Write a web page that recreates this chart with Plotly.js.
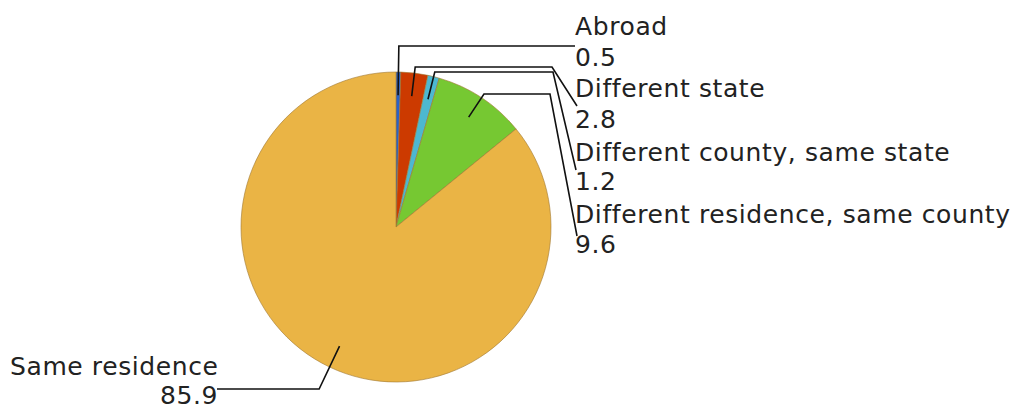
<!DOCTYPE html>
<html>
<head>
<meta charset="utf-8">
<script src="https://cdn.plot.ly/plotly-3.0.1.min.js"></script>
<style>
html,body{margin:0;padding:0;background:#fff;}
#chart{width:1019px;height:410px;}
.annotation-text{letter-spacing:0.6px;}
</style>
</head>
<body>
<div id="chart"></div>
<script>
// ---- data ----
const categories = ['Abroad', 'Different state', 'Different county, same state', 'Different residence, same county', 'Same residence'];
const values = [0.5, 2.8, 1.2, 9.6, 85.9];
const valueLabels = ['0.5', '2.8', '1.2', '9.6', '85.9'];
const colors = ['#2a62c8', '#cc3a00', '#4db8d0', '#76c832', '#eab445'];

// ---- layout (pixels) ----
const W = 1019, H = 410;
const cx = 396, cy = 227, R = 155;
// label layout: name position, value position, leader horizontal level, horizontal end, final point
const labelLayout = [
  {side: 'right', nameY: 26, valY: 57, level: 46, hx: 575, end: [575, 46], tx: 574},
  {side: 'right', nameY: 89, valY: 119, level: 67, hx: 552, end: [577, 106], tx: 574},
  {side: 'right', nameY: 152, valY: 182, level: 72, hx: 553, end: [576, 170], tx: 574},
  {side: 'right', nameY: 214, valY: 244, level: 94, hx: 550, end: [577, 236], tx: 574},
  {side: 'left', nameY: 366, valY: 395, level: 389, hx: 217, end: [217, 389], tx: 9, vx: 219}
];

const px = x => x / W;
const py = y => 1 - y / H;

const total = values.reduce((a, b) => a + b, 0);
let cum = 0;
const shapes = [];
const annotations = [];
const font = {family: 'DejaVu Sans, Verdana, sans-serif', size: 25, color: '#222'};
values.forEach((v, i) => {
  const mid = (cum + v / 2) / total * 2 * Math.PI;
  cum += v;
  const L = labelLayout[i];
  const s = Math.sin(mid), c = Math.cos(mid);
  const d0 = 0.85 * R;
  const x0 = cx + d0 * s, y0 = cy - d0 * c;
  const d1 = (cy - L.level) / c;
  const x1 = cx + d1 * s, y1 = L.level;
  const path = `M ${px(x0)} ${py(y0)} L ${px(x1)} ${py(y1)} L ${px(L.hx)} ${py(L.level)} L ${px(L.end[0])} ${py(L.end[1])}`;
  shapes.push({type: 'path', xref: 'paper', yref: 'paper', path: path, line: {color: '#111', width: 1.6}});
  if (L.side === 'right') {
    annotations.push({xref: 'paper', yref: 'paper', x: px(L.tx), y: py(L.nameY), xanchor: 'left', yanchor: 'middle', text: categories[i], showarrow: false, font: font, borderpad: 0});
    annotations.push({xref: 'paper', yref: 'paper', x: px(L.tx), y: py(L.valY), xanchor: 'left', yanchor: 'middle', text: valueLabels[i], showarrow: false, font: font, borderpad: 0});
  } else {
    annotations.push({xref: 'paper', yref: 'paper', x: px(L.tx), y: py(L.nameY), xanchor: 'left', yanchor: 'middle', text: categories[i], showarrow: false, font: font, borderpad: 0});
    annotations.push({xref: 'paper', yref: 'paper', x: px(L.vx), y: py(L.valY), xanchor: 'right', yanchor: 'middle', text: valueLabels[i], showarrow: false, font: font, borderpad: 0});
  }
});

const trace = {
  type: 'pie',
  labels: categories,
  values: values,
  sort: false,
  direction: 'clockwise',
  rotation: 0,
  textinfo: 'none',
  hoverinfo: 'label+value',
  marker: {colors: colors, line: {color: 'rgba(160,120,50,0.6)', width: 1}},
  domain: {x: [px(cx - R), px(cx + R)], y: [py(cy + R), py(cy - R)]},
  showlegend: false
};

Plotly.newPlot('chart', [trace], {
  width: W, height: H,
  margin: {l: 0, r: 0, t: 0, b: 0},
  paper_bgcolor: '#fff',
  plot_bgcolor: '#fff',
  showlegend: false,
  shapes: shapes,
  annotations: annotations
}, {displayModeBar: false, staticPlot: true});
</script>
</body>
</html>
